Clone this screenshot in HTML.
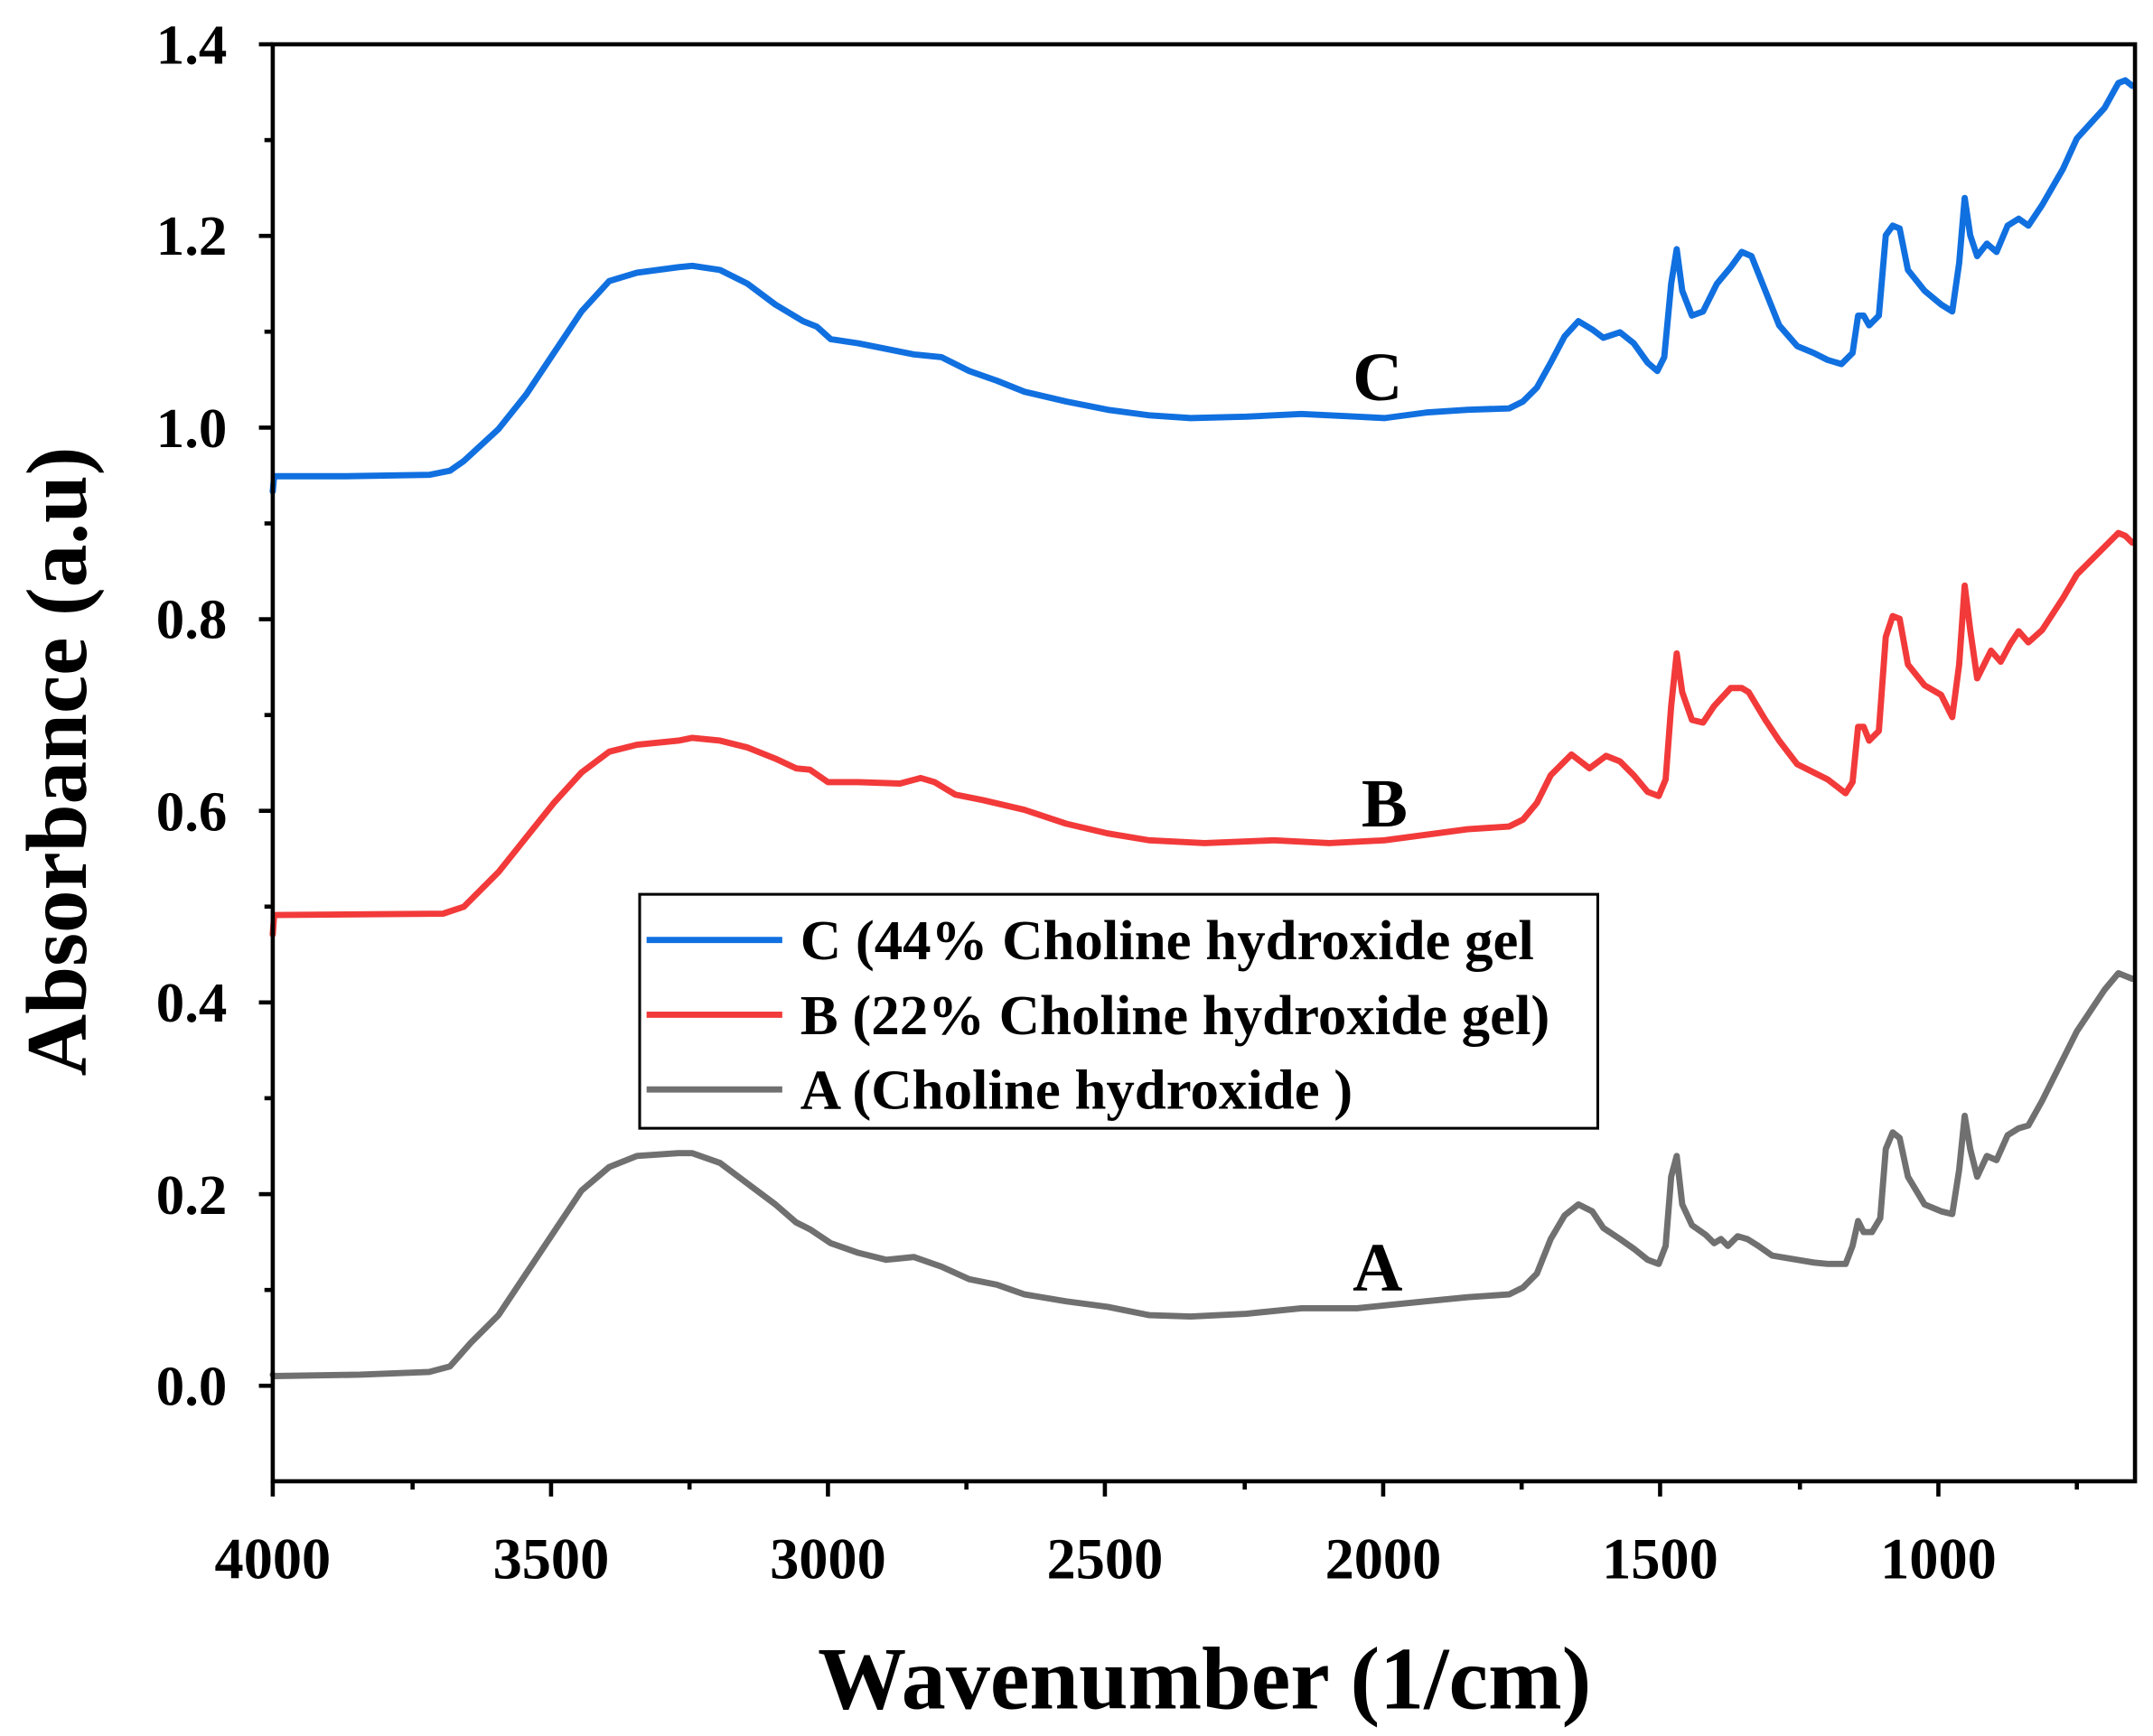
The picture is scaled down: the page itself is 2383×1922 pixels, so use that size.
<!DOCTYPE html>
<html><head><meta charset="utf-8"><style>
html,body{margin:0;padding:0;background:#fff;}
svg{display:block;}
text{font-family:"Liberation Serif",serif;font-weight:bold;fill:#000;}
</style></head><body>
<svg width="2383" height="1922" viewBox="0 0 1555 1254" preserveAspectRatio="none" xmlns="http://www.w3.org/2000/svg">
<rect width="1555" height="1254" fill="#fff"/>
<g fill="none" stroke-linejoin="round" stroke-linecap="round" stroke-width="4.5">
<polyline stroke="#1170e0" points="197,355 198,344 250,344 310,343 325,340 335,333 360,310 380,285 400,255 420,225 440,203 460,197 490,193 500,192 520,195 540,205 560,220 580,232 590,236 600,245 620,248 640,252 660,256 680,258 700,268 720,275 740,283 770,290 800,296 830,300 860,302 900,301 940,299 980,301 1000,302 1030,298 1060,296 1090,295 1100,290 1110,280 1120,262 1130,243 1140,232 1150,238 1158,244 1170,240 1180,248 1190,262 1197,268 1202,258 1207,205 1211,180 1215,210 1222,228 1230,225 1240,205 1250,193 1258,182 1265,185 1275,210 1285,235 1298,250 1310,255 1320,260 1330,263 1338,255 1342,228 1346,228 1350,235 1357,228 1362,170 1367,163 1372,165 1378,195 1390,210 1402,220 1410,225 1415,190 1419,143 1423,170 1428,185 1435,176 1442,182 1450,163 1458,158 1465,163 1475,148 1490,122 1500,100 1520,78 1530,60 1535,58 1540,62"/>
<polyline stroke="#f23a3a" points="197,675 198,661 320,660 335,655 360,630 380,605 400,580 420,558 440,543 460,538 490,535 500,533 520,535 540,540 560,548 575,555 585,556 598,565 620,565 650,566 665,562 675,565 690,574 710,578 740,585 770,595 800,602 830,607 870,609 920,607 960,609 1000,607 1030,603 1060,599 1090,597 1100,592 1110,580 1120,560 1135,545 1148,555 1160,546 1170,550 1180,560 1190,572 1198,575 1203,563 1207,510 1211,472 1215,500 1222,520 1230,522 1238,510 1250,497 1258,497 1263,500 1275,520 1285,535 1298,552 1310,558 1320,563 1333,573 1338,565 1342,525 1346,525 1350,535 1357,528 1362,460 1367,445 1372,447 1378,480 1390,495 1402,502 1410,518 1415,480 1419,423 1423,455 1428,490 1433,480 1438,470 1445,478 1452,465 1458,456 1465,464 1475,455 1490,432 1500,415 1520,395 1530,385 1535,387 1540,392"/>
<polyline stroke="#707070" points="197,993 198,994 260,993 310,991 325,987 340,970 360,950 380,920 400,890 420,860 440,843 460,835 490,833 500,833 520,840 540,855 560,870 575,883 585,888 600,898 620,905 640,910 660,908 680,915 700,924 720,928 740,935 770,940 800,944 830,950 860,951 900,949 940,945 980,945 1000,943 1030,940 1060,937 1090,935 1100,930 1110,920 1120,895 1130,878 1140,870 1150,875 1158,887 1170,895 1180,902 1190,910 1198,913 1203,900 1207,850 1211,835 1215,870 1222,885 1232,892 1238,898 1243,895 1248,900 1255,893 1262,895 1270,900 1280,907 1298,910 1310,912 1320,913 1333,913 1338,900 1342,882 1346,890 1352,890 1358,880 1362,830 1367,818 1372,822 1378,850 1390,870 1402,875 1410,877 1415,845 1419,806 1423,830 1428,850 1435,835 1442,838 1450,820 1458,815 1465,813 1475,795 1490,765 1500,745 1520,715 1530,703 1535,705 1540,707"/>
</g>
<rect x="197" y="32" width="1345" height="1038" fill="none" stroke="#000" stroke-width="3"/>
<g stroke="#000" stroke-width="3">
<line x1="187" y1="32" x2="197" y2="32"/><line x1="187" y1="170.4" x2="197" y2="170.4"/><line x1="187" y1="308.9" x2="197" y2="308.9"/><line x1="187" y1="447.3" x2="197" y2="447.3"/><line x1="187" y1="585.7" x2="197" y2="585.7"/><line x1="187" y1="724.1" x2="197" y2="724.1"/><line x1="187" y1="862.6" x2="197" y2="862.6"/><line x1="187" y1="1001" x2="197" y2="1001"/>
<line x1="191" y1="101.2" x2="197" y2="101.2"/><line x1="191" y1="239.6" x2="197" y2="239.6"/><line x1="191" y1="378.1" x2="197" y2="378.1"/><line x1="191" y1="516.5" x2="197" y2="516.5"/><line x1="191" y1="654.9" x2="197" y2="654.9"/><line x1="191" y1="793.3" x2="197" y2="793.3"/><line x1="191" y1="931.8" x2="197" y2="931.8"/>
<line x1="197" y1="1070" x2="197" y2="1081"/><line x1="398" y1="1070" x2="398" y2="1081"/><line x1="598" y1="1070" x2="598" y2="1081"/><line x1="798" y1="1070" x2="798" y2="1081"/><line x1="999" y1="1070" x2="999" y2="1081"/><line x1="1199" y1="1070" x2="1199" y2="1081"/><line x1="1400" y1="1070" x2="1400" y2="1081"/>
<line x1="298" y1="1070" x2="298" y2="1076"/><line x1="498" y1="1070" x2="498" y2="1076"/><line x1="698" y1="1070" x2="698" y2="1076"/><line x1="899" y1="1070" x2="899" y2="1076"/><line x1="1099" y1="1070" x2="1099" y2="1076"/><line x1="1300" y1="1070" x2="1300" y2="1076"/><line x1="1500" y1="1070" x2="1500" y2="1076"/>
</g>
<g font-size="41" text-anchor="end">
<text x="164" y="46">1.4</text><text x="164" y="184">1.2</text><text x="164" y="323">1.0</text><text x="164" y="461">0.8</text><text x="164" y="600">0.6</text><text x="164" y="738">0.4</text><text x="164" y="877">0.2</text><text x="164" y="1015">0.0</text>
</g>
<g font-size="42" text-anchor="middle">
<text x="197" y="1140">4000</text><text x="398" y="1140">3500</text><text x="598" y="1140">3000</text><text x="798" y="1140">2500</text><text x="999" y="1140">2000</text><text x="1199" y="1140">1500</text><text x="1400" y="1140">1000</text>
</g>
<text x="870" y="1234" font-size="64" text-anchor="middle">Wavenumber (1/cm)</text>
<text transform="translate(62,550) rotate(-90)" font-size="62" text-anchor="middle">Absorbance (a.u)</text>
<g font-size="50" text-anchor="middle">
<text x="995" y="289">C</text><text x="1000" y="597">B</text><text x="995" y="932">A</text>
</g>
<rect x="462" y="646" width="692" height="169" fill="#fff" stroke="#000" stroke-width="2"/>
<g stroke-width="4.5">
<line x1="467" y1="679" x2="565" y2="679" stroke="#1170e0"/>
<line x1="467" y1="733" x2="565" y2="733" stroke="#f23a3a"/>
<line x1="467" y1="787" x2="565" y2="787" stroke="#707070"/>
</g>
<g font-size="41">
<text x="578" y="693">C (44% Choline hydroxide gel</text>
<text x="578" y="747">B (22% Choline hydroxide gel)</text>
<text x="578" y="801">A (Choline hydroxide )</text>
</g>
</svg>
</body></html>
